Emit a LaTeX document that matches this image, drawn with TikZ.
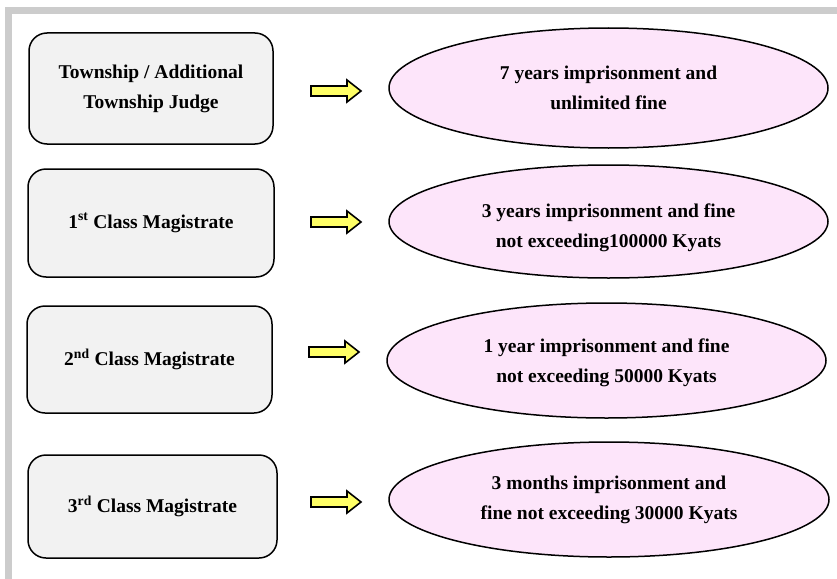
\documentclass[tikz,border=0pt]{standalone}
\usepackage{fontspec}
\setmainfont{Liberation Serif}
\usetikzlibrary{shapes.geometric}
\begin{document}
\begin{tikzpicture}[x=1pt,y=-1pt,
  court/.style={draw=black, line width=1.5pt, fill=boxgray, rounded corners=18pt,
    align=center, inner sep=0pt, font=\fontsize{19.5}{30}\selectfont\bfseries},
  penalty/.style={draw=black, line width=1.5pt, fill=pinkfill, ellipse, inner sep=0pt},
  penaltytext/.style={align=center, inner sep=0pt, font=\fontsize{19.5}{30}\selectfont\bfseries},
  pointer/.style={draw=black, line width=1.6pt, fill=arrowyellow, line join=miter},
]
\definecolor{boxgray}{HTML}{F2F2F2}
\definecolor{pinkfill}{HTML}{FDE5FA}
\definecolor{arrowyellow}{HTML}{FFFF66}
\definecolor{framegray}{HTML}{CCCCCC}
\useasboundingbox (0,0) rectangle (837,578);
\begin{scope}
  \clip (0,0) rectangle (837,578);
  \draw[framegray, line width=7pt] (8.5,10.5) rectangle (845,582);
\end{scope}

% courts (left column)
\node[court, minimum width=244pt, minimum height=111pt] (c1) at (151,88.5)
  {Township / Additional\\Township Judge};
\node[court, minimum width=246pt, minimum height=108pt] (c2) at (151,223)
  {1\textsuperscript{st} Class Magistrate};
\node[court, minimum width=245pt, minimum height=107pt] (c3) at (149.5,359.5)
  {2\textsuperscript{nd} Class Magistrate};
\node[court, minimum width=249pt, minimum height=103pt] (c4) at (152.5,506.5)
  {3\textsuperscript{rd} Class Magistrate};

% maximum sentences (right column)
\node[penalty, minimum width=439pt, minimum height=120pt] (p1) at (608.5,88) {};
\node[penalty, minimum width=439pt, minimum height=113pt] (p2) at (608.5,221.5) {};
\node[penalty, minimum width=439pt, minimum height=115pt] (p3) at (606.5,360.5) {};
\node[penalty, minimum width=440pt, minimum height=115pt] (p4) at (609,499.5) {};

\node[penaltytext] (t1) at (p1.center) {7 years imprisonment and\\unlimited fine};
\node[penaltytext] (t2) at ([yshift=-6pt]p2.center) {3 years imprisonment and fine\\not exceeding100000 Kyats};
\node[penaltytext] (t3) at ([yshift=-2.5pt]p3.center) {1 year imprisonment and fine\\not exceeding 50000 Kyats};
\node[penaltytext] (t4) at (p4.center) {3 months imprisonment and\\fine not exceeding 30000 Kyats};

% block arrows between the columns
\foreach \n/\x/\y in {1/311/91, 2/311/222, 3/309/352, 4/311/502} {
  \coordinate (a\n) at (\x,\y);
  \draw[pointer] (a\n) ++(0,-5) -- ++(36,0) -- ++(0,-6) -- ++(14,11)
    -- ++(-14,11) -- ++(0,-6) -- ++(-36,0) -- cycle;
}
\end{tikzpicture}
\end{document}
